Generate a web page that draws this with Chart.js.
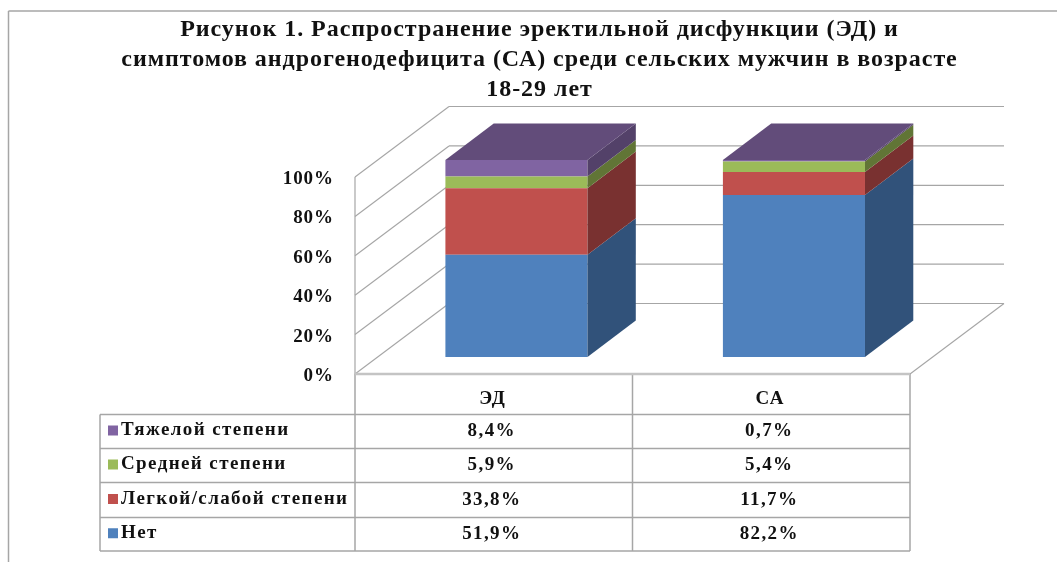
<!DOCTYPE html>
<html lang="ru">
<head>
<meta charset="utf-8">
<title>Рисунок 1</title>
<script src="https://cdn.jsdelivr.net/npm/chart.js@4"></script>
<style>
    html, body { margin: 0; padding: 0; background: #fff; overflow: hidden; }
    canvas { display: block; }
</style>
</head>
<body>
<canvas id="edChart" width="1057" height="562"></canvas>
<script>
// Chart data
const titleLines = [
    'Рисунок 1. Распространение эректильной дисфункции (ЭД) и',
    'симптомов андрогенодефицита (СА) среди сельских мужчин в возрасте',
    '18-29 лет'
];
const categories = ['ЭД', 'СА'];
const seriesNames = ['Нет', 'Легкой/слабой степени', 'Средней степени', 'Тяжелой степени'];
const noneValues = [51.9, 82.2];
const mildValues = [33.8, 11.7];
const mediumValues = [5.9, 5.4];
const severeValues = [8.4, 0.7];

// Colours per series: front face and shaded side face
const frontColors = ['#4f81bd', '#c0504d', '#9bbb59', '#8064a2'];
const sideColors = ['#31527a', '#793130', '#617536', '#534169'];
const topColor = '#624c7a';

const lineColor = '#a6a6a6';
const fontFamily = '"Liberation Serif", serif';

// Depth of the 3D box and of the bars inside it
const wallDepth = { x: 94, y: -70.5 };
const barShift = { x: 22.7, y: -17 };
const barDepth = { x: 48.3, y: -36.6 };

const allValues = [noneValues, mildValues, mediumValues, severeValues];

function line(ctx, x1, y1, x2, y2) {
    ctx.beginPath();
    ctx.moveTo(x1, y1);
    ctx.lineTo(x2, y2);
    ctx.stroke();
}

function quad(ctx, points, color) {
    ctx.fillStyle = color;
    ctx.beginPath();
    points.forEach((p, i) => i ? ctx.lineTo(p[0], p[1]) : ctx.moveTo(p[0], p[1]));
    ctx.closePath();
    ctx.fill();
}

function formatValue(v) {
    return v.toFixed(1).replace('.', ',') + '%';
}

// Walls and floor behind the bars, then move the bars into the box
const boxPlugin = {
    id: 'box3d',
    beforeDraw(chart) {
        const ctx = chart.ctx;
        ctx.letterSpacing = '0.95px';
        ctx.save();
        ctx.strokeStyle = lineColor;
        ctx.lineWidth = 1.5;
        line(ctx, 8.5, 562, 8.5, 11);
        line(ctx, 8.5, 11, 1057, 11);
        ctx.restore();
    },
    beforeDatasetsDraw(chart) {
        const ctx = chart.ctx;
        const area = chart.chartArea;
        const y = chart.scales.y;
        ctx.save();
        ctx.strokeStyle = lineColor;
        ctx.lineWidth = 1.2;
        y.ticks.forEach(tick => {
            const py = y.getPixelForValue(tick.value);
            line(ctx, area.left, py, area.left + wallDepth.x, py + wallDepth.y);
            line(ctx, area.left + wallDepth.x, py + wallDepth.y, area.right + wallDepth.x, py + wallDepth.y);
        });
        line(ctx, area.left, area.top, area.left, area.bottom);
        line(ctx, area.right, area.bottom, area.right + wallDepth.x, area.bottom + wallDepth.y);
        ctx.restore();
        ctx.save();
        ctx.translate(barShift.x, barShift.y);
    },
    afterDatasetsDraw(chart) {
        const ctx = chart.ctx;
        ctx.restore();
        ctx.save();
        chart.data.datasets.forEach((ds, i) => {
            chart.getDatasetMeta(i).data.forEach(bar => {
                const right = bar.x + bar.width / 2 + barShift.x;
                const top = bar.y + barShift.y;
                const bottom = bar.base + barShift.y;
                quad(ctx, [
                    [right, bottom],
                    [right + barDepth.x, bottom + barDepth.y],
                    [right + barDepth.x, top + barDepth.y],
                    [right, top]
                ], sideColors[i]);
            });
        });
        // Top face sits on the last series
        const last = chart.data.datasets.length - 1;
        chart.getDatasetMeta(last).data.forEach(bar => {
            const left = bar.x - bar.width / 2 + barShift.x;
            const right = bar.x + bar.width / 2 + barShift.x;
            const top = bar.y + barShift.y;
            quad(ctx, [
                [left, top],
                [left + barDepth.x, top + barDepth.y],
                [right + barDepth.x, top + barDepth.y],
                [right, top]
            ], topColor);
        });
        ctx.restore();
    },
    // Data table under the chart
    afterDraw(chart) {
        const ctx = chart.ctx;
        const area = chart.chartArea;
        const x = chart.scales.x;
        const tableLeft = 100;
        const rowLines = [414.5, 448.5, 482.5, 517.5, 551];
        const midX = (x.getPixelForValue(0) + x.getPixelForValue(1)) / 2;

        ctx.save();
        ctx.strokeStyle = lineColor;
        ctx.lineWidth = 1.5;
        rowLines.forEach(py => line(ctx, tableLeft, py, area.right, py));
        line(ctx, tableLeft, rowLines[0], tableLeft, rowLines[4]);
        line(ctx, area.left, area.bottom, area.left, rowLines[4]);
        line(ctx, midX, area.bottom, midX, rowLines[4]);
        line(ctx, area.right, area.bottom, area.right, rowLines[4]);
        ctx.strokeStyle = '#c4c4c4';
        ctx.lineWidth = 2.5;
        line(ctx, area.left, area.bottom, area.right, area.bottom);

        ctx.letterSpacing = '1.4px';
        ctx.fillStyle = '#111';
        ctx.font = 'bold 19px ' + fontFamily;
        ctx.textBaseline = 'middle';
        ctx.textAlign = 'center';
        categories.forEach((c, j) => ctx.fillText(c, x.getPixelForValue(j) - 1, 399));

        // Rows run from the top series down to the first one
        const rowCount = seriesNames.length;
        for (let r = 0; r < rowCount; r++) {
            const s = rowCount - 1 - r;
            const cy = (rowLines[r] + rowLines[r + 1]) / 2 - 1;
            ctx.fillStyle = frontColors[s];
            ctx.fillRect(108, cy - 5, 10, 10);
            ctx.fillStyle = '#111';
            ctx.textAlign = 'left';
            ctx.fillText(seriesNames[s], 121, cy);
            ctx.textAlign = 'center';
            allValues[s].forEach((v, j) => ctx.fillText(formatValue(v), x.getPixelForValue(j) - 2, cy + 1));
        }
        ctx.restore();
    }
};

const ctx = document.getElementById('edChart').getContext('2d');
const edChart = new Chart(ctx, {
    type: 'bar',
    data: {
        labels: categories,
        datasets: seriesNames.map((name, i) => ({
            label: name,
            data: allValues[i],
            backgroundColor: frontColors[i],
            borderWidth: 0,
            clip: false,
            barPercentage: 1,
            categoryPercentage: 0.512
        }))
    },
    options: {
        responsive: false,
        animation: false,
        layout: {
            padding: { left: 22, right: 0, top: 0, bottom: 188 }
        },
        scales: {
            x: {
                stacked: true,
                display: false
            },
            y: {
                stacked: true,
                min: 0,
                max: 100,
                grid: { display: false, drawTicks: false },
                border: { display: false },
                ticks: {
                    stepSize: 20,
                    padding: 21,
                    labelOffset: 2,
                    color: '#111',
                    font: { family: fontFamily, size: 19, weight: 'bold' },
                    callback: value => value + '%'
                },
                afterFit(scale) {
                    scale.width = 333;
                }
            },
            // Empty axis that keeps the plot clear of the right part of the page
            rightGap: {
                axis: 'y',
                position: 'right',
                grid: { display: false, drawTicks: false },
                border: { display: false },
                ticks: { display: false },
                afterFit(scale) {
                    scale.width = 147;
                }
            }
        },
        plugins: {
            legend: { display: false },
            tooltip: { enabled: false },
            title: {
                display: true,
                text: titleLines,
                color: '#111',
                font: { family: fontFamily, size: 24, weight: 'bold', lineHeight: 1.25 },
                padding: { top: 15, bottom: 72 }
            }
        }
    },
    plugins: [boxPlugin]
});
</script>
</body>
</html>
